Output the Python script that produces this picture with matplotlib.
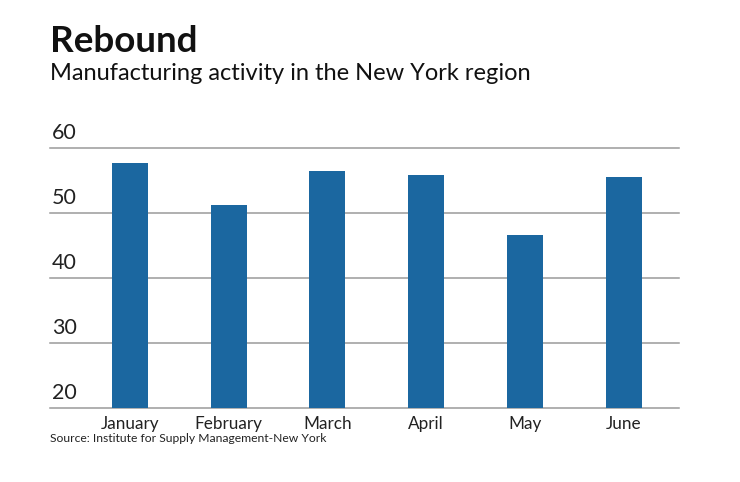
import matplotlib
matplotlib.use('Agg')
import matplotlib.pyplot as plt
import matplotlib.transforms as mtransforms

months = ['January', 'February', 'March', 'April', 'May', 'June']
activity = [57.7, 51.2, 56.5, 55.8, 46.6, 55.5]
y_ticks = [20, 30, 40, 50, 60]

bar_color = '#1b67a0'
grid_color = '#9a9a9a'
plt.rcParams['font.family'] = ['Lato', 'DejaVu Sans']

fig = plt.figure(figsize=(7.4, 4.82), dpi=100)
W, H = 740, 482
ax = fig.add_axes([50 / W, 1 - 408 / H, 629 / W, 260 / H])

x = list(range(len(months)))
ax.bar(x, [v - 20 for v in activity], bottom=20, width=0.365, color=bar_color, zorder=2)
ax.set_xlim(-0.81, 5.562)
ax.set_ylim(20, 60)

for s in ax.spines.values():
    s.set_visible(False)
ax.set_yticks([])
for t in y_ticks:
    ax.axhline(t, color=grid_color, lw=1.1, zorder=1, clip_on=False)

# y labels sit above their gridline at the left edge
trans = mtransforms.blended_transform_factory(ax.transAxes, ax.transData)
offset = mtransforms.ScaledTranslation(2 / 100, 5 / 100, fig.dpi_scale_trans)
for t in y_ticks:
    ax.text(0, t, str(t), transform=trans + offset, ha='left', va='bottom',
            fontsize=15.5, color='#222222')

ax.set_xticks(x)
ax.set_xticklabels(months, fontsize=12.3, color='#222222')
ax.tick_params(axis='x', length=0, pad=6)

fig.text(50 / W, 1 - 52 / H, 'Rebound', fontsize=26.5, fontweight='bold',
         color='#111111', ha='left', va='baseline')
fig.text(50 / W, 1 - 80 / H, 'Manufacturing activity in the New York region',
         fontsize=17, color='#111111', ha='left', va='baseline')
fig.text(50 / W, 1 - 442 / H, 'Source: Institute for Supply Management-New York',
         fontsize=8.7, color='#222222', ha='left', va='baseline')

fig.savefig('out.png', dpi=100)
